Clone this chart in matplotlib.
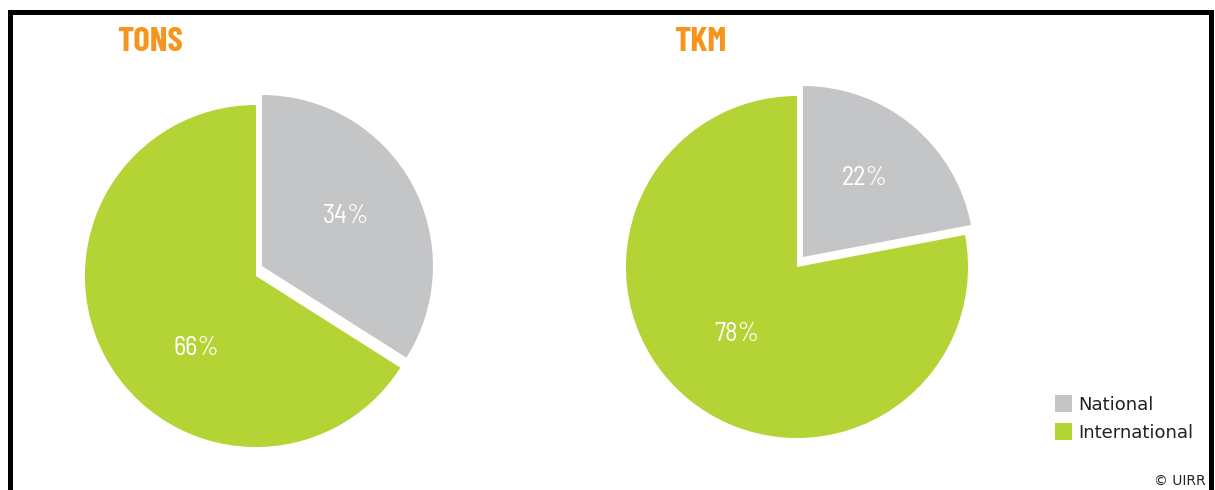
import matplotlib.pyplot as plt
from matplotlib.patches import Patch, Rectangle
from matplotlib.transforms import ScaledTranslation

# data
titles = ["TONS", "TKM"]
categories = ["National", "International"]
tons_share = [34, 66]
tkm_share = [22, 78]
colors = ["#C4C5C7", "#B4D334"]
orange = "#F7941E"

title_font = ["Barlow Condensed", "Noto Sans", "DejaVu Sans"]
label_font = ["Barlow Semi Condensed", "Noto Sans", "DejaVu Sans"]

fig = plt.figure(figsize=(12.15, 4.9), dpi=100)

# axes boxes (left, bottom, width, height) in figure fractions
boxes = [[0.0699, 0.0877, 0.2815, 0.698],
         [0.5152, 0.1061, 0.2815, 0.698]]
# label spots in pie units (national, international)
label_pos = [[(0.49, 0.29), (-0.35, -0.42)],
             [(0.36, 0.46), (-0.35, -0.39)]]
title_x = [150 / 1215, 700 / 1215]

# national slice sits a bit up and right of the rest (pixels)
shift = ScaledTranslation(6 / 100, 10 / 100, fig.dpi_scale_trans)

for i, vals in enumerate([tons_share, tkm_share]):
    ax = fig.add_axes(boxes[i])
    wedges, _ = ax.pie(vals, colors=colors, startangle=90, counterclock=False,
                       radius=1, wedgeprops={"linewidth": 0})
    ax.set_xlim(-1, 1)
    ax.set_ylim(-1, 1)
    ax.set_aspect("equal")
    ax.axis("off")
    wedges[0].set_transform(ax.transData + shift)
    wedges[0].set_clip_on(False)
    for j, v in enumerate(vals):
        tr = ax.transData + shift if j == 0 else ax.transData
        ax.text(label_pos[i][j][0], label_pos[i][j][1], f"{v}%", color="white",
                fontsize=19, family=label_font, fontstretch="condensed", fontweight="normal",
                ha="center", va="center", transform=tr)
    fig.text(title_x[i], 1 - 42 / 490, titles[i], color=orange, fontsize=25,
             fontweight="bold", family=title_font, fontstretch="condensed",
             ha="center", va="center")

handles = [Patch(facecolor=c, edgecolor="none") for c in colors]
fig.legend(handles, categories, loc="upper left", bbox_to_anchor=(1055 / 1215, 1 - 395 / 490),
           frameon=False, fontsize=13, handlelength=0.95, handleheight=1.1,
           handletextpad=0.35, labelspacing=0.5, borderpad=0, borderaxespad=0,
           labelcolor="#222222")

fig.text(1206 / 1215, 1 - 481 / 490, "© UIRR", fontsize=10, ha="right", va="center",
         color="#222222")

# black frame open at the bottom
frame = Rectangle((10.5 / 1215, -0.2), (1211 - 10.5) / 1215, 0.2 + 1 - 12.5 / 490,
                  transform=fig.transFigure, fill=False, edgecolor="black",
                  linewidth=3.6, clip_on=False)
fig.add_artist(frame)

fig.savefig("out.png", dpi=100)
